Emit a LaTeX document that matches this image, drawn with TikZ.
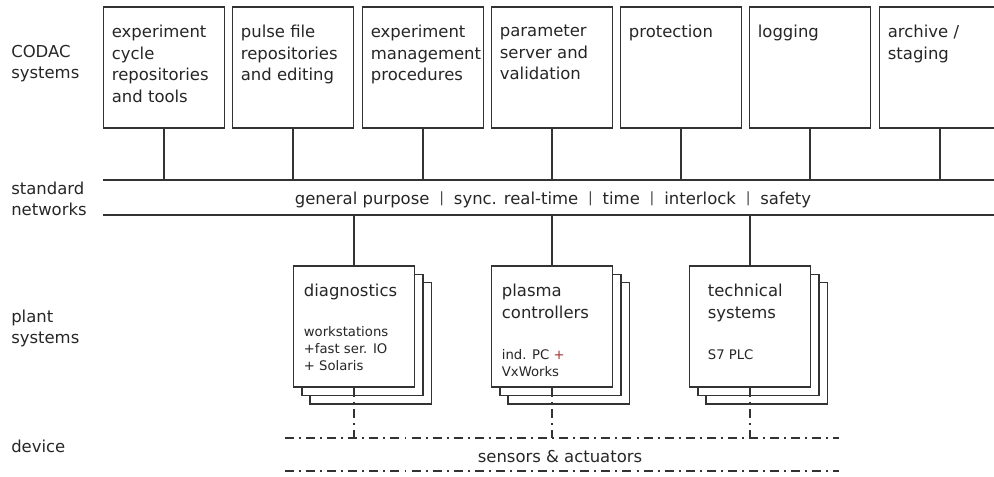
\documentclass[tikz,border=0pt]{standalone}
\usepackage{fontspec}
\setmainfont{DejaVu Sans}
\usetikzlibrary{shadows}

\tikzset{
  frame/.style={draw=black!80, line width=1.1pt},
  sysbox/.style={frame, fill=white, minimum width=3.03cm, minimum height=3.03cm, inner sep=0pt},
  plantbox/.style={sysbox,
    copy shadow={shadow xshift=0.42cm, shadow yshift=-0.42cm, draw=black!80, fill=white, line width=1.1pt},
    copy shadow={shadow xshift=0.21cm, shadow yshift=-0.21cm, draw=black!80, fill=white, line width=1.1pt}},
  boxtext/.style={anchor=north west, inner sep=0pt, align=left, text=black!85,
    font=\fontsize{11.7}{15.3}\selectfont},
  smalltext/.style={boxtext, font=\fontsize{9.4}{12.2}\selectfont},
  sidetext/.style={boxtext, font=\fontsize{11.7}{14.6}\selectfont},
  nettext/.style={anchor=base, inner sep=0pt, text=black!85, font=\fontsize{11.7}{14}\selectfont},
  dashdot/.style={draw=black!80, line width=1.1pt, dash pattern=on 6.4pt off 3.6pt on 1.4pt off 3.6pt},
}
\newcommand{\netsep}{\hspace{0.6em}\raisebox{0.17em}{\color{black!75}\fontsize{10}{10}\selectfont|}\hspace{0.6em}}

\begin{document}
\begin{tikzpicture}[x=0.025cm, y=-0.025cm]
\useasboundingbox (0,0) rectangle (994,477);
\clip (0,0) rectangle (994,477);

% layer names
\node[sidetext] (codac)  at (11,45)  {CODAC\\systems};
\node[sidetext] (stdnet) at (11,182) {standard\\networks};
\node[sidetext] (plant)  at (11,310) {plant\\systems};
\node[sidetext] (device) at (11,440) {device};

% standard networks
\coordinate (netTL) at (103,180);
\coordinate (netTR) at (1000,180);
\coordinate (netBL) at (103,215);
\coordinate (netBR) at (1000,215);
\draw[frame] (netTL)--(netTR);
\draw[frame] (netBL)--(netBR);
\node[nettext] (nets) at (553,205)
  {general purpose\netsep sync. real-time\netsep time\netsep interlock\netsep safety};

% CODAC systems
\foreach \x/\name/\txt in {164/cycle/{experiment\\cycle\\repositories\\and tools},
  293/pulse/{pulse file\\repositories\\and editing},
  423/mgmt/{experiment\\management\\procedures},
  552/param/{parameter\\server and\\validation},
  681/prot/{protection},
  810/logging/{logging},
  940/archive/{archive /\\staging}}
{
    \node[sysbox] (\name) at (\x,67.5) {};
    \node[boxtext] (\name-txt) at ([shift={(9,19)}]\name.north west) {\txt};
    \draw[frame] (\name)--(\name |- netTL);
}

% device level
\coordinate (devTL) at (285,438);
\coordinate (devTR) at (839,438);
\coordinate (devBL) at (285,471);
\coordinate (devBR) at (839,471);
\draw[dashdot] (devTL)--(devTR);
\draw[dashdot] (devBL)--(devBR);
\node[nettext] (sensors) at (560,463) {sensors \& actuators};

% plant systems
\foreach \x/\name/\title/\detail/\dx/\dy in {354/diag/diagnostics/{workstations\\+fast ser. IO\\+ Solaris}/11/61,
  552/plasma/{plasma\\controllers}/{ind. PC {\color{red!55!black!80}+}\\VxWorks}/11/84,
  750/tech/{technical\\systems}/{S7 PLC}/19/84}
{
    \node[plantbox] (\name) at (\x,326.5) {};
    \node[boxtext] (\name-title) at ([shift={(\dx,19)}]\name.north west) {\title};
    \node[smalltext] (\name-detail) at ([shift={(\dx,\dy)}]\name.north west) {\detail};
    \draw[frame] (\name)--(\name |- netBL);
    \draw[dashdot] (\name.south)--(\name.south |- devTL);
}

\end{tikzpicture}
\end{document}
